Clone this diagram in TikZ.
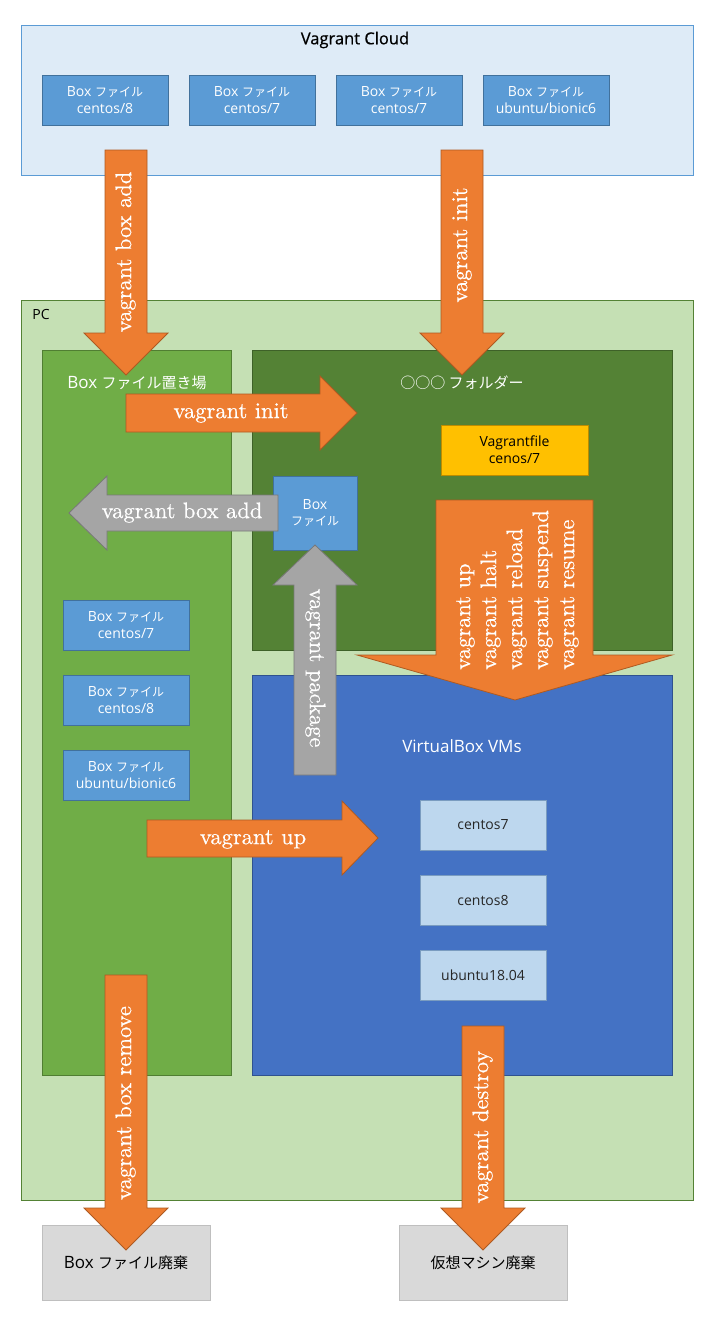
\documentclass[tikz,border=0pt]{standalone}
\usepackage{fontspec}
\newfontfamily\jp{Noto Sans CJK JP}
\newfontfamily\lat{Open Sans}
\newfontfamily\latb{Open Sans}[FakeBold=0.6]
\newfontfamily\arw{lmroman10-regular.otf}[FakeBold=0.5]
\newcommand\jpbox{\jp\fontsize{12}{16.7}\selectfont}
\newcommand\jptitle{\jp\fontsize{15}{18}\selectfont}
\definecolor{cloudfill}{HTML}{DEEBF7}
\definecolor{cloudline}{HTML}{5B9BD5}
\definecolor{boxblue}{HTML}{5B9BD5}
\definecolor{boxblueline}{HTML}{41719C}
\definecolor{pcfill}{HTML}{C5E0B4}
\definecolor{pcline}{HTML}{548235}
\definecolor{storefill}{HTML}{70AD47}
\definecolor{storeline}{HTML}{507E32}
\definecolor{folderfill}{HTML}{548235}
\definecolor{folderline}{HTML}{3E6128}
\definecolor{vmsfill}{HTML}{4472C4}
\definecolor{vmsline}{HTML}{2F528F}
\definecolor{vmitem}{HTML}{BDD7EE}
\definecolor{vmitemline}{HTML}{7A9CC0}
\definecolor{vfilefill}{HTML}{FFC000}
\definecolor{vfileline}{HTML}{BC8C00}
\definecolor{delfill}{HTML}{D9D9D9}
\definecolor{delline}{HTML}{BFBFBF}
\definecolor{orangefill}{HTML}{ED7D31}
\definecolor{orangeline}{HTML}{AE5A21}
\definecolor{grayfill}{HTML}{A5A5A5}
\definecolor{grayline}{HTML}{787878}
\definecolor{darktext}{HTML}{262626}
\begin{document}
\begin{tikzpicture}[x=1pt,y=-1pt,
  rectbox/.style={draw, inner sep=0pt, outer sep=0pt, line width=0.8pt, align=center,
    font=\lat\fontsize{14}{16.7}\selectfont},
  cloudbg/.style={rectbox, fill=cloudfill, draw=cloudline},
  bluebox/.style={rectbox, fill=boxblue, draw=boxblueline, text=white},
  pcbg/.style={rectbox, fill=pcfill, draw=pcline},
  storebg/.style={rectbox, fill=storefill, draw=storeline},
  folderbg/.style={rectbox, fill=folderfill, draw=folderline},
  vmsbg/.style={rectbox, fill=vmsfill, draw=vmsline},
  vmbox/.style={rectbox, fill=vmitem, draw=vmitemline, text=darktext, font=\lat\fontsize{14}{16}\selectfont},
  vfilebox/.style={rectbox, fill=vfilefill, draw=vfileline, text=black, font=\lat\fontsize{14}{16.7}\selectfont},
  delbox/.style={rectbox, fill=delfill, draw=delline, text=black, font=\lat\fontsize{17}{18}\selectfont},
  title/.style={inner sep=0pt, font=\lat\fontsize{17}{18}\selectfont},
  oarrow/.style={fill=orangefill, draw=orangeline, line width=0.8pt},
  garrow/.style={fill=grayfill, draw=grayline, line width=0.8pt},
  alabel/.style={text=white, inner sep=0pt, font=\arw\fontsize{22.5}{26}\selectfont,
    text height=15.75pt, text depth=5.6pt}
]
\useasboundingbox (0,0) rectangle (715,1326);

% Vagrant Cloud
\node[cloudbg, minimum width=672pt, minimum height=150pt] (cloud) at (357,100) {};
\node[title, text=black, font=\latb\fontsize{16.5}{18}\selectfont] (cloudtitle) at (355,40) {Vagrant Cloud};
\node[bluebox, minimum width=126pt, minimum height=50pt] (c1) at (105,100) {Box {\jpbox ファイル}\\centos/8};
\node[bluebox, minimum width=126pt, minimum height=50pt] (c2) at (252,100) {Box {\jpbox ファイル}\\centos/7};
\node[bluebox, minimum width=126pt, minimum height=50pt] (c3) at (399,100) {Box {\jpbox ファイル}\\centos/7};
\node[bluebox, minimum width=126pt, minimum height=50pt] (c4) at (546,100) {Box {\jpbox ファイル}\\ubuntu/bionic6};

% PC
\node[pcbg, minimum width=672pt, minimum height=900pt] (pc) at (357,750) {};
\node[title, text=black, font=\lat\fontsize{14}{16}\selectfont] (pctitle) at (41,314) {PC};

% Box store
\node[storebg, minimum width=189pt, minimum height=725pt] (store) at (136.5,712.5) {};
\node[title, text=white] (storetitle) at (137,383) {Box {\jptitle ファイル置き場}};
\node[bluebox, minimum width=126pt, minimum height=50pt] (b1) at (126,625) {Box {\jpbox ファイル}\\centos/7};
\node[bluebox, minimum width=126pt, minimum height=50pt] (b2) at (126,700) {Box {\jpbox ファイル}\\centos/8};
\node[bluebox, minimum width=126pt, minimum height=50pt] (b3) at (126,775) {Box {\jpbox ファイル}\\ubuntu/bionic6};

% folder
\node[folderbg, minimum width=420pt, minimum height=300pt] (folder) at (462,500) {};
\node[title, text=white] (foldertitle) at (462,383) {\jptitle ○○○ フォルダー};
\node[vfilebox, minimum width=147pt, minimum height=50pt] (vfile) at (514.5,450) {Vagrantfile\\cenos/7};
\node[bluebox, minimum width=84pt, minimum height=74pt] (sbox) at (315,513) {Box\\{\jpbox ファイル}};

% VirtualBox VMs
\node[vmsbg, minimum width=420pt, minimum height=400pt] (vms) at (462,875) {};
\node[title, text=white] (vmstitle) at (462,746) {VirtualBox VMs};
\node[vmbox, minimum width=126pt, minimum height=50pt] (vm1) at (483,825) {centos7};
\node[vmbox, minimum width=126pt, minimum height=50pt] (vm2) at (483,900) {centos8};
\node[vmbox, minimum width=126pt, minimum height=50pt] (vm3) at (483,975) {ubuntu18.04};

% disposal
\node[delbox, minimum width=168pt, minimum height=75pt] (del1) at (126,1262.5) {Box {\jptitle ファイル廃棄}};
\node[delbox, minimum width=168pt, minimum height=75pt] (del2) at (483,1262.5) {\jptitle 仮想マシン廃棄};

% arrows
\draw[oarrow] (105,150) -- (147,150) -- (147,333) -- (168,333) -- (126,375) -- (84,333) -- (105,333) -- cycle;
\node[alabel, rotate=90] (lboxadd) at (126,252) {vagrant box add};

\draw[oarrow] (441,150) -- (483,150) -- (483,333) -- (504,333) -- (462,375) -- (420,333) -- (441,333) -- cycle;
\node[alabel, rotate=90] (linitv) at (462,245) {vagrant init};

\draw[oarrow] (126,394) -- (320,394) -- (320,376) -- (357,413) -- (320,450) -- (320,432) -- (126,432) -- cycle;
\node[alabel] (linith) at (231,413) {vagrant init};

\draw[garrow] (278,495) -- (107,495) -- (107,476) -- (69,513) -- (107,550) -- (107,531) -- (278,531) -- cycle;
\node[alabel] (lboxaddh) at (182,513) {vagrant box add};

\draw[garrow] (294,775) -- (294,585) -- (273,585) -- (315,545) -- (357,585) -- (336,585) -- (336,775) -- cycle;
\node[alabel, rotate=-90] (lpackage) at (315,668) {vagrant package};

\draw[oarrow] (436,500) -- (593,500) -- (593,655) -- (672,655) -- (515,700) -- (357,655) -- (436,655) -- cycle;
\node[alabel, rotate=90, anchor=west] (lup1) at (465,670) {vagrant up};
\node[alabel, rotate=90, anchor=west] (lhalt) at (491,670) {vagrant halt};
\node[alabel, rotate=90, anchor=west] (lreload) at (517,670) {vagrant reload};
\node[alabel, rotate=90, anchor=west] (lsuspend) at (543,670) {vagrant suspend};
\node[alabel, rotate=90, anchor=west] (lresume) at (569,670) {vagrant resume};

\draw[oarrow] (147,820) -- (342,820) -- (342,801) -- (378,838) -- (342,875) -- (342,857) -- (147,857) -- cycle;
\node[alabel] (luph) at (253,839) {vagrant up};

\draw[oarrow] (105,975) -- (147,975) -- (147,1208) -- (168,1208) -- (126,1250) -- (84,1208) -- (105,1208) -- cycle;
\node[alabel, rotate=90] (lremove) at (126,1103) {vagrant box remove};

\draw[oarrow] (462,1026) -- (504,1026) -- (504,1208) -- (525,1208) -- (483,1250) -- (441,1208) -- (462,1208) -- cycle;
\node[alabel, rotate=90] (ldestroy) at (483,1127) {vagrant destroy};
\end{tikzpicture}
\end{document}
